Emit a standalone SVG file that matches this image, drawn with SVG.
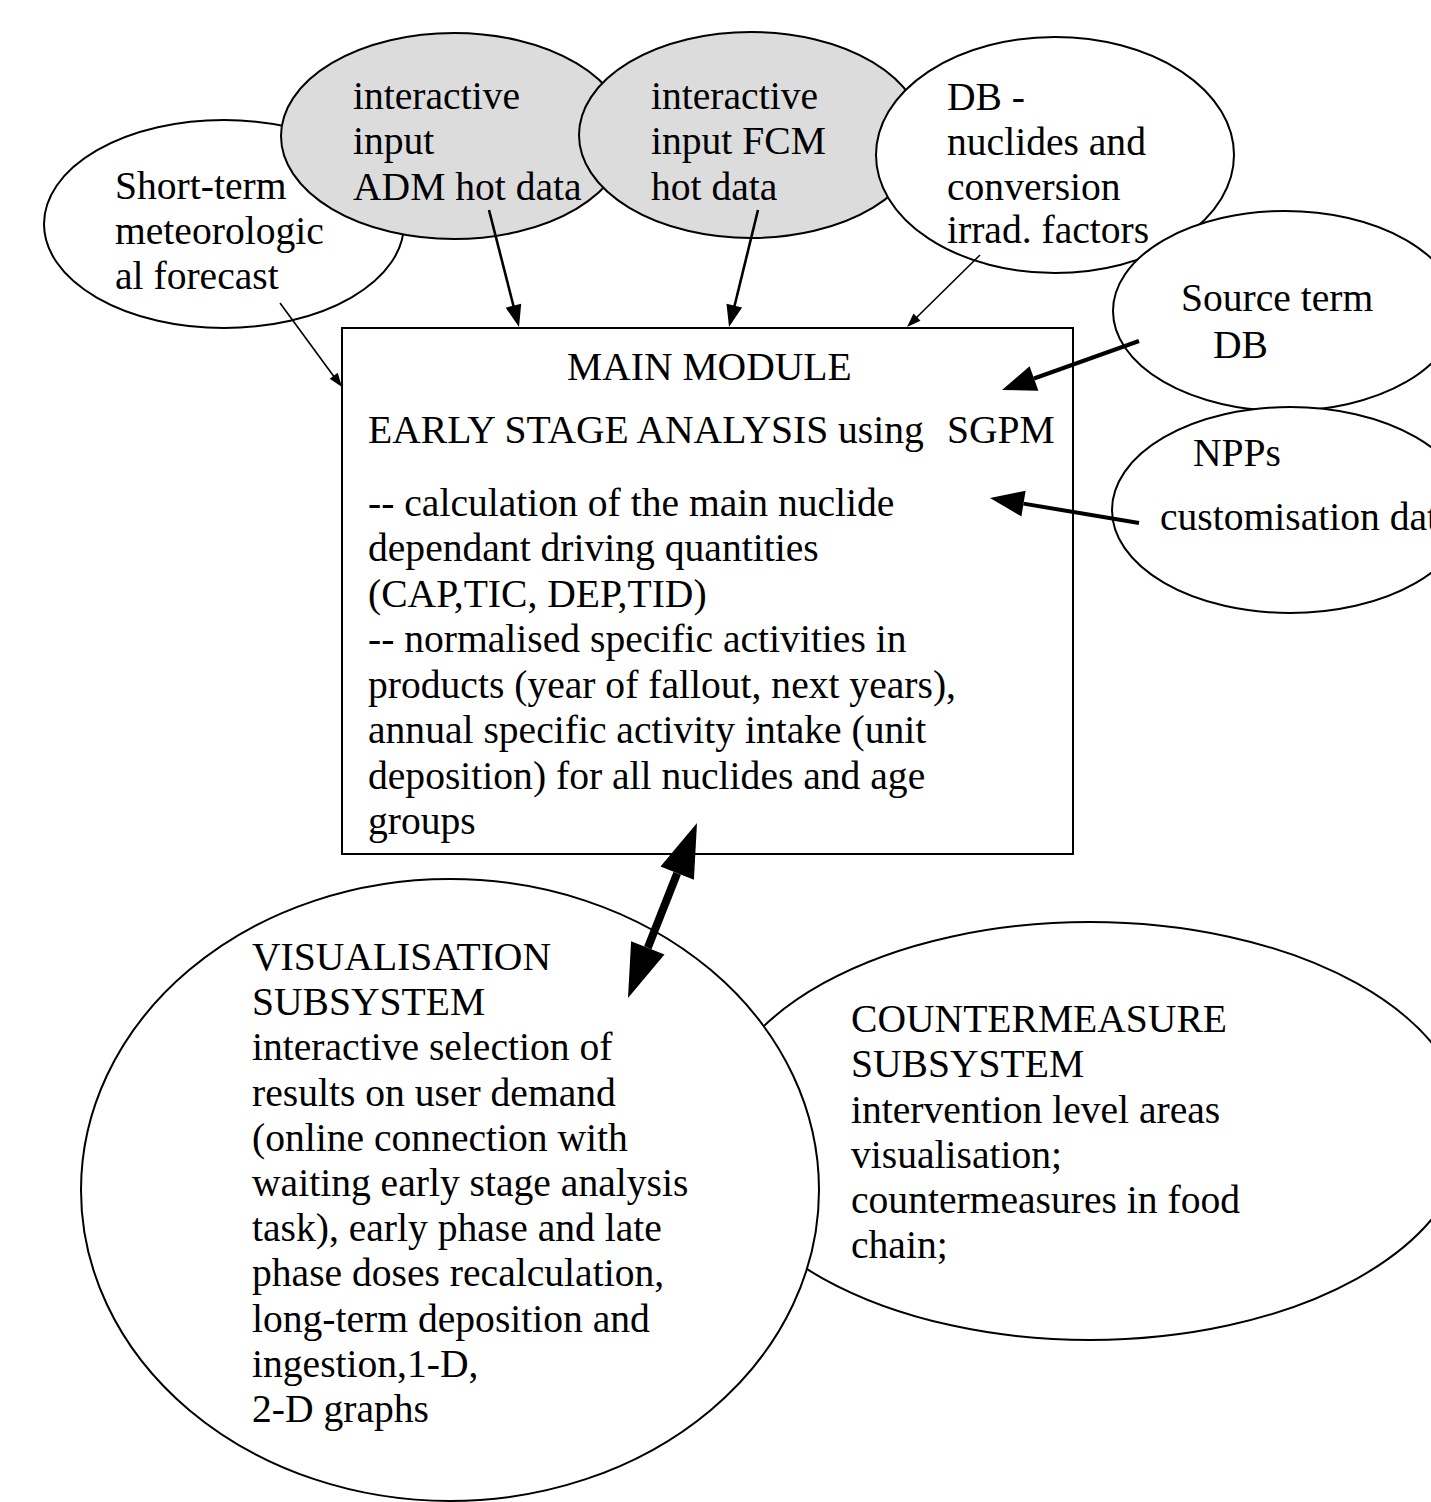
<svg xmlns="http://www.w3.org/2000/svg" width="1431" height="1502" viewBox="0 0 1431 1502">
<style>
  .bg { fill: #ffffff; }
  .node { fill: #ffffff; stroke: #000000; stroke-width: 2; }
  .hot { fill: #dcdcdc; stroke: #000000; stroke-width: 2; }
  text { font-family: "Liberation Serif", "Times New Roman", serif; font-size: 39.6px; fill: #000000; }
  .thin { stroke: #000000; stroke-width: 1.6; fill: none; }
  .mid { stroke: #000000; stroke-width: 2.6; fill: none; }
  .thick { stroke: #000000; stroke-width: 4; fill: none; }
  .fat { stroke: #000000; stroke-width: 8; fill: none; }
  .head { fill: #000000; stroke: none; }
</style>
<rect class="bg" x="0" y="0" width="1431" height="1502"/>

<g id="node-shortterm">
  <ellipse class="node" cx="224" cy="224" rx="180" ry="104"/>
  <text x="115" y="199">Short-term</text>
  <text x="115" y="244">meteorologic</text>
  <text x="115" y="289">al forecast</text>
</g>
<g id="node-adm">
  <ellipse class="hot" cx="454" cy="136" rx="173" ry="103"/>
  <text x="353" y="109">interactive</text>
  <text x="353" y="154">input</text>
  <text x="353" y="200">ADM hot data</text>
</g>
<g id="node-fcm">
  <ellipse class="hot" cx="751" cy="135" rx="172" ry="103"/>
  <text x="651" y="109">interactive</text>
  <text x="651" y="154">input FCM</text>
  <text x="651" y="200">hot data</text>
</g>
<g id="node-db">
  <ellipse class="node" cx="1055" cy="155" rx="179" ry="118"/>
  <text x="947" y="110">DB -</text>
  <text x="947" y="155">nuclides and</text>
  <text x="947" y="200">conversion</text>
  <text x="947" y="243">irrad. factors</text>
</g>
<g id="node-source">
  <ellipse class="node" cx="1285" cy="311" rx="172" ry="100"/>
  <text x="1181" y="311">Source term</text>
  <text x="1213" y="358">DB</text>
</g>
<g id="node-npps">
  <ellipse class="node" cx="1290" cy="510" rx="178" ry="103"/>
  <text x="1193" y="466">NPPs</text>
  <text x="1160" y="530">customisation dat</text>
</g>
<g id="node-main">
  <rect class="node" x="342" y="328" width="731" height="526"/>
  <text x="567" y="380">MAIN MODULE</text>
  <text x="368" y="443">EARLY STAGE ANALYSIS using <tspan x="947">SGPM</tspan></text>
  <text x="368" y="516">-- calculation of the main nuclide</text>
  <text x="368" y="561">dependant driving quantities</text>
  <text x="368" y="607">(CAP,TIC, DEP,TID)</text>
  <text x="368" y="652">-- normalised specific activities in</text>
  <text x="368" y="698">products (year of fallout, next years),</text>
  <text x="368" y="743">annual specific activity intake (unit</text>
  <text x="368" y="789">deposition) for all nuclides and age</text>
  <text x="368" y="834">groups</text>
</g>
<g id="node-countermeasure">
  <ellipse class="node" cx="1090" cy="1131" rx="377" ry="209"/>
  <text x="851" y="1032">COUNTERMEASURE</text>
  <text x="851" y="1077">SUBSYSTEM</text>
  <text x="851" y="1123">intervention level areas</text>
  <text x="851" y="1168">visualisation;</text>
  <text x="851" y="1213">countermeasures in food</text>
  <text x="851" y="1258">chain;</text>
</g>
<g id="node-visualisation">
  <ellipse class="node" cx="450" cy="1190" rx="369" ry="311"/>
  <text x="252" y="970">VISUALISATION</text>
  <text x="252" y="1015">SUBSYSTEM</text>
  <text x="252" y="1060">interactive selection of</text>
  <text x="252" y="1106">results on user demand</text>
  <text x="252" y="1151">(online connection with</text>
  <text x="252" y="1196">waiting early stage analysis</text>
  <text x="252" y="1241">task), early phase and late</text>
  <text x="252" y="1286">phase doses recalculation,</text>
  <text x="252" y="1332">long-term deposition and</text>
  <text x="252" y="1377">ingestion,1-D,</text>
  <text x="252" y="1422">2-D graphs</text>
</g>

<g id="connectors">
  <line class="thin" x1="280" y1="303" x2="335" y2="378"/>
  <polygon class="head" points="342,387 329.7,378.7 337.7,372.7"/>

  <line class="mid" x1="489" y1="210" x2="514" y2="308"/>
  <polygon class="head" points="519,327 505.7,307.7 521.2,303.7"/>

  <line class="mid" x1="758" y1="210" x2="734" y2="308"/>
  <polygon class="head" points="729,327 726.5,303.7 742.1,307.5"/>

  <line class="thin" x1="980" y1="255" x2="915" y2="319"/>
  <polygon class="head" points="907,327 913.5,313.6 920.5,320.8"/>

  <line class="thick" x1="1139" y1="341" x2="1034" y2="378.5"/>
  <polygon class="head" points="1002,390 1029.6,366.3 1038.4,390.7"/>

  <line class="thick" x1="1139" y1="523" x2="1023.5" y2="503.6"/>
  <polygon class="head" points="990,498 1025.6,490.8 1021.4,516.4"/>

  <line class="fat" x1="677.2" y1="873.2" x2="647.8" y2="947.8"/>
  <polygon class="head" points="697,823 660.5,866.6 693.9,879.8"/>
  <polygon class="head" points="628,998 631.1,941.2 664.5,954.4"/>
</g>
</svg>
